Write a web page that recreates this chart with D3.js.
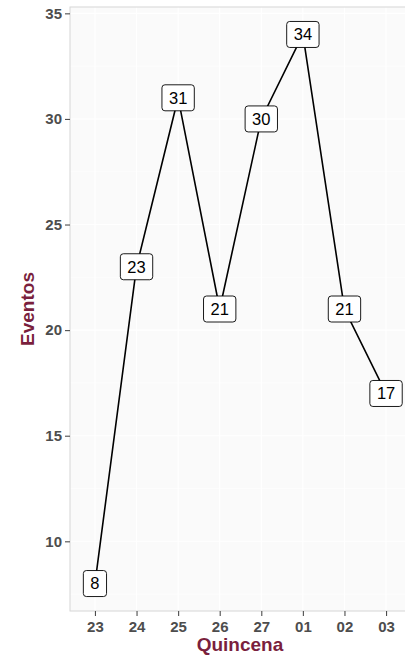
<!DOCTYPE html>
<html>
<head>
<meta charset="utf-8">
<script src="https://cdn.jsdelivr.net/npm/d3@7"></script>
<style>
  html, body { margin: 0; padding: 0; background: #ffffff; }
  svg { display: block; }
</style>
</head>
<body>
<svg id="chart" width="405" height="656"></svg>
<script>
// Fortnight labels and event counts
const quincenas = ["23", "24", "25", "26", "27", "01", "02", "03"];
const eventos = [8, 23, 31, 21, 30, 34, 21, 17];
const yTicks = [10, 15, 20, 25, 30, 35];
const yMinorTicks = [7.5, 12.5, 17.5, 22.5, 27.5, 32.5];

const W = 405, H = 656;
const panel = { left: 70, top: 7, right: 411, bottom: 611 };
const FONT = "'Liberation Sans', Arial, sans-serif";

const svg = d3.select("#chart");

const x = d3.scalePoint()
  .domain(quincenas)
  .range([panel.left, panel.right])
  .padding(0.6);

const y = d3.scaleLinear()
  .domain([6.7, 35.3])
  .range([panel.bottom, panel.top]);

svg.append("defs").append("clipPath").attr("id", "panelClip")
  .append("rect")
  .attr("x", panel.left).attr("y", panel.top)
  .attr("width", panel.right - panel.left)
  .attr("height", panel.bottom - panel.top);

// Panel background
svg.append("rect")
  .attr("x", panel.left).attr("y", panel.top)
  .attr("width", panel.right - panel.left)
  .attr("height", panel.bottom - panel.top)
  .attr("fill", "#fafafa");

const grid = svg.append("g").attr("clip-path", "url(#panelClip)");

// Minor horizontal grid
grid.selectAll("line.ymin").data(yMinorTicks).join("line")
  .attr("x1", panel.left).attr("x2", panel.right)
  .attr("y1", d => y(d)).attr("y2", d => y(d))
  .attr("stroke", "#ffffff").attr("stroke-width", 0.6);

// Major horizontal grid
grid.selectAll("line.ymaj").data(yTicks).join("line")
  .attr("x1", panel.left).attr("x2", panel.right)
  .attr("y1", d => y(d)).attr("y2", d => y(d))
  .attr("stroke", "#ffffff").attr("stroke-width", 1.1);

// Vertical grid
grid.selectAll("line.xmaj").data(quincenas).join("line")
  .attr("x1", d => x(d)).attr("x2", d => x(d))
  .attr("y1", panel.top).attr("y2", panel.bottom)
  .attr("stroke", "#ffffff").attr("stroke-width", 1.1);

// Panel border
svg.append("rect")
  .attr("x", panel.left).attr("y", panel.top)
  .attr("width", panel.right - panel.left)
  .attr("height", panel.bottom - panel.top)
  .attr("fill", "none")
  .attr("stroke", "#d6d6d6").attr("stroke-width", 1);

// Axes
const yAxis = svg.append("g")
  .attr("transform", `translate(${panel.left},0)`)
  .call(d3.axisLeft(y).tickValues(yTicks).tickSize(5).tickPadding(3));
const xAxis = svg.append("g")
  .attr("transform", `translate(0,${panel.bottom})`)
  .call(d3.axisBottom(x).tickSize(5).tickPadding(5));

[yAxis, xAxis].forEach(g => {
  g.attr("font-size", 15).attr("font-family", FONT).attr("font-weight", "bold");
  g.select(".domain").remove();
  g.selectAll(".tick line").attr("stroke", "#4d4d4d").attr("stroke-width", 1.1);
  g.selectAll(".tick text").attr("fill", "#4d4d4d");
});

// Line
const line = d3.line()
  .x((d, i) => x(quincenas[i]))
  .y(d => y(d));

svg.append("path")
  .datum(eventos)
  .attr("d", line)
  .attr("fill", "none")
  .attr("stroke", "#000000")
  .attr("stroke-width", 1.6);

// Value labels
const labels = svg.append("g").selectAll("g").data(eventos).join("g")
  .attr("transform", (d, i) => `translate(${x(quincenas[i])},${y(d)})`);

labels.each(function(d) {
  const g = d3.select(this);
  const t = g.append("text")
    .attr("text-anchor", "middle")
    .attr("dy", "0.36em")
    .attr("font-family", FONT)
    .attr("font-size", 16.5)
    .attr("fill", "#000000")
    .text(String(d));
  const tw = t.node().getComputedTextLength();
  const w = tw + 14, h = 26;
  g.insert("rect", "text")
    .attr("x", -w / 2).attr("y", -h / 2)
    .attr("width", w).attr("height", h)
    .attr("rx", 3).attr("ry", 3)
    .attr("fill", "#ffffff")
    .attr("stroke", "#000000").attr("stroke-width", 0.9);
});

// Axis titles
svg.append("text")
  .attr("x", 240)
  .attr("y", 651)
  .attr("text-anchor", "middle")
  .attr("font-family", FONT)
  .attr("font-size", 19)
  .attr("font-weight", "bold")
  .attr("fill", "#7a1f3d")
  .text("Quincena");

svg.append("text")
  .attr("transform", `translate(34,${(panel.top + panel.bottom) / 2}) rotate(-90)`)
  .attr("text-anchor", "middle")
  .attr("font-family", FONT)
  .attr("font-size", 19)
  .attr("font-weight", "bold")
  .attr("fill", "#7a1f3d")
  .text("Eventos");
</script>
</body>
</html>
